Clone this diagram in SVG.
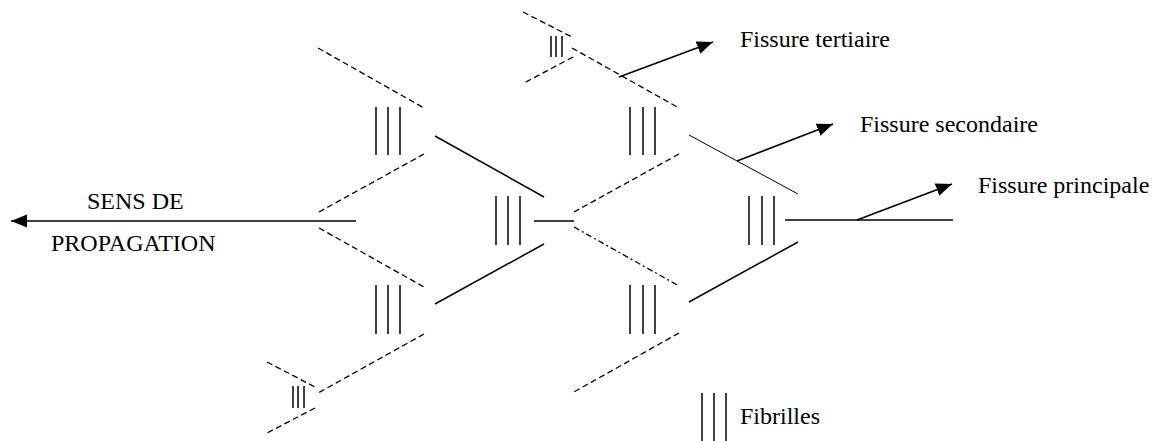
<svg xmlns="http://www.w3.org/2000/svg" width="1155" height="441" viewBox="0 0 1155 441">
<style>
.t{font-family:"Liberation Serif","Times New Roman",serif;font-size:24px;fill:#000}
.d{stroke:#000;stroke-width:1.3;stroke-dasharray:6 3.5;fill:none}
.dd{stroke:#000;stroke-width:1.3;stroke-dasharray:6 3 2 3;fill:none}
.s{stroke:#000;stroke-width:1.5;fill:none}
.th{stroke:#000;stroke-width:1;fill:none}
.f{stroke:#000;stroke-width:1.5}
.a{stroke:#000;stroke-width:1.5;fill:none;marker-end:url(#ah)}
</style>
<defs>
<marker id="ah" markerUnits="userSpaceOnUse" markerWidth="18" markerHeight="14" refX="16" refY="6.5" orient="auto">
<path d="M0,0 L16,6.5 L0,13 z" fill="#000"/>
</marker>
</defs>
<rect width="1155" height="441" fill="#fff"/>

<g id="fissure-left">
<line class="d" x1="318" y1="48" x2="424" y2="108"/>
<line class="d" x1="424" y1="154" x2="319" y2="212"/>
<line class="d" x1="319" y1="228" x2="424" y2="287"/>
<line class="d" x1="424" y1="334" x2="318" y2="393"/>
<line class="s" x1="435" y1="136" x2="544" y2="197"/>
<line class="s" x1="435" y1="304" x2="544" y2="244"/>
<line class="s" x1="534" y1="221" x2="574" y2="221"/>
</g>
<g id="fibrils-left-top"><line class="f" x1="376" y1="107" x2="376" y2="155"/><line class="f" x1="388" y1="107" x2="388" y2="155"/><line class="f" x1="400" y1="107" x2="400" y2="155"/></g>
<g id="fibrils-left-bottom"><line class="f" x1="376" y1="285" x2="376" y2="334"/><line class="f" x1="388" y1="285" x2="388" y2="334"/><line class="f" x1="400" y1="285" x2="400" y2="334"/></g>
<g id="fibrils-center"><line class="f" x1="496" y1="196" x2="496" y2="245"/><line class="f" x1="508" y1="196" x2="508" y2="245"/><line class="f" x1="520" y1="196" x2="520" y2="245"/></g>

<g id="fissure-tertiary-top">
<line class="d" x1="523" y1="12" x2="572" y2="37"/>
<line class="d" x1="573" y1="57" x2="524" y2="83"/>
<line class="f" x1="551" y1="36" x2="551" y2="57"/><line class="f" x1="556" y1="36" x2="556" y2="57"/><line class="f" x1="562" y1="36" x2="562" y2="57"/>
</g>
<g id="fissure-tertiary-bottom">
<line class="d" x1="267" y1="362" x2="315" y2="387"/>
<line class="d" x1="315" y1="408" x2="267" y2="433"/>
<line class="f" x1="293" y1="386" x2="293" y2="408"/><line class="f" x1="298" y1="386" x2="298" y2="408"/><line class="f" x1="304" y1="386" x2="304" y2="408"/>
</g>

<g id="fissure-right">
<line class="d" x1="572" y1="48" x2="679" y2="108"/>
<line class="d" x1="679" y1="154" x2="574" y2="212"/>
<line class="dd" x1="574" y1="227" x2="679" y2="286"/>
<line class="d" x1="679" y1="333" x2="572" y2="393"/>
<line class="th" x1="689" y1="135" x2="798" y2="194"/>
<line class="s" x1="689" y1="302" x2="798" y2="242"/>
<line class="s" x1="785" y1="220" x2="953" y2="220"/>
</g>
<g id="fibrils-right-top"><line class="f" x1="630" y1="107" x2="630" y2="155"/><line class="f" x1="643" y1="107" x2="643" y2="155"/><line class="f" x1="655" y1="107" x2="655" y2="155"/></g>
<g id="fibrils-right-bottom"><line class="f" x1="630" y1="285" x2="630" y2="334"/><line class="f" x1="643" y1="285" x2="643" y2="334"/><line class="f" x1="655" y1="285" x2="655" y2="334"/></g>
<g id="fibrils-right-center"><line class="f" x1="749" y1="196" x2="749" y2="245"/><line class="f" x1="762" y1="196" x2="762" y2="245"/><line class="f" x1="774" y1="196" x2="774" y2="245"/></g>

<g id="connectors">
<line class="a" x1="356" y1="221" x2="11" y2="221"/>
<line class="a" x1="619" y1="77" x2="713" y2="42"/>
<line class="a" x1="737" y1="161" x2="833" y2="124"/>
<line class="a" x1="857" y1="220" x2="952" y2="184"/>
</g>

<g id="labels">
<text class="t" x="87" y="209">SENS DE</text>
<text class="t" x="51" y="251">PROPAGATION</text>
<text class="t" x="740" y="47">Fissure tertiaire</text>
<text class="t" x="860" y="132">Fissure secondaire</text>
<text class="t" x="978" y="193">Fissure principale</text>
</g>

<g id="legend">
<line class="f" x1="702" y1="393" x2="702" y2="441"/><line class="f" x1="714" y1="393" x2="714" y2="441"/><line class="f" x1="726" y1="393" x2="726" y2="441"/>
<text class="t" x="740" y="424">Fibrilles</text>
</g>
</svg>
